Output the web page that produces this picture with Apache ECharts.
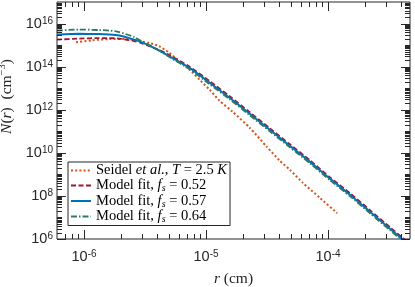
<!DOCTYPE html>
<html><head><meta charset="utf-8">
<script src="https://cdn.jsdelivr.net/npm/echarts@6/dist/echarts.min.js"></script>
<style>html,body{margin:0;padding:0;background:#fff}#c{width:415px;height:287px}</style>
</head><body><div id="c"></div>
<script>
// ---- data ----
const seidelR = [8.6e-7, 1.16e-6, 1.61e-6, 2.22e-6, 3.0e-6, 3.43e-6, 4.14e-6, 5.01e-6, 6.05e-6, 7.32e-6, 8.85e-6, 1.07e-5, 1.29e-5, 1.65e-5, 2.28e-5, 3.15e-5, 4.03e-5, 4.87e-5, 6.22e-5, 8.59e-5, 1.19e-4];
const seidelN = [1.35e15, 1.67e15, 1.90e15, 1.90e15, 1.46e15, 1.27e15, 8.8e14, 4.34e14, 1.77e14, 7.24e13, 2.48e13, 8.5e12, 2.62e12, 8.1e11, 1.46e11, 1.90e10, 4.25e9, 1.62e9, 4.03e8, 8.07e7, 1.57e7];
const fitR = [6.0e-7, 9.1e-7, 1.33e-6, 1.61e-6, 1.94e-6, 2.58e-6, 2.94e-6, 3.43e-6, 4.14e-6, 5.01e-6, 7.32e-6, 1.07e-5, 1.56e-5, 2.28e-5, 3.33e-5, 4.87e-5, 7.11e-5, 1.04e-4, 1.52e-4, 2.22e-4, 3.24e-4, 4.06e-4, 4.9e-4];
const fit052N = [1.80e15, 2.0e15, 2.12e15, 2.12e15, 2.0e15, 1.53e15, 1.24e15, 8.98e14, 5.85e14, 3.43e14, 1.0e14, 2.12e13, 4.25e12, 7.65e11, 1.38e11, 2.49e10, 4.48e9, 7.25e8, 1.31e8, 2.12e7, 3.43e6, 1.17e6, 5.0e5];
const fit057N = [3.08e15, 3.32e15, 3.25e15, 3.08e15, 2.77e15, 1.80e15, 1.38e15, 9.5e14, 5.55e14, 3.0e14, 8.7e13, 1.8e13, 3.6e12, 6.5e11, 1.17e11, 2.1e10, 3.8e9, 6.2e8, 1.11e8, 1.8e7, 2.9e6, 1.0e6, 4.3e5];
const fit064N = [4.72e15, 5.26e15, 4.99e15, 4.72e15, 4.03e15, 2.36e15, 1.53e15, 1.0e15, 5.55e14, 2.77e14, 7.65e13, 1.53e13, 3.08e12, 5.55e11, 1.0e11, 1.80e10, 3.25e9, 5.26e8, 9.49e7, 1.53e7, 2.48e6, 8.5e5, 3.6e5];
const seriesNames = ['Seidel et al., T = 2.5 K', 'Model fit, fs = 0.52', 'Model fit, fs = 0.57', 'Model fit, fs = 0.64'];
const xMajorTicks = [1e-6, 1e-5, 1e-4];
const yMajorTicks = [1e6, 1e8, 1e10, 1e12, 1e14, 1e16];
const xRange = [6e-7, 4.7e-4];
const yRange = [1e6, 1e17];

// minor tick values (log decades)
const xMinorTicks = [];
for (let n = -7; n <= -4; n++) for (let k = 2; k <= 9; k++) {
  const v = k * Math.pow(10, n);
  if (v > xRange[0] && v < xRange[1]) xMinorTicks.push(v);
}
const yMinorTicks = [];
for (let n = 6; n <= 16; n++) for (let k = 1; k <= 9; k++) {
  if (k === 1 && n % 2 === 0) continue;
  const v = k * Math.pow(10, n);
  if (v > yRange[0] && v < yRange[1]) yMinorTicks.push(v);
}

const ink = '#262626';
const serif = 'Liberation Serif';
const sans = 'Liberation Sans';

function pow10Label(v) {
  const e = Math.log10(v);
  const r = Math.round(e);
  if (Math.abs(e - r) > 1e-6) return '';
  return '{b|10}{sup|' + (r < 0 ? '-' + (-r) : r) + '}';
}
const tickRich = {
  b: {fontFamily: sans, fontSize: 14.5, color: ink, lineHeight: 15, verticalAlign: 'bottom'},
  sup: {fontFamily: sans, fontSize: 10, color: ink, lineHeight: 10, verticalAlign: 'top', padding: [0, 0, 7, 0]}
};
const nameRich = {
  r: {fontFamily: serif, fontSize: 15.5, color: ink, lineHeight: 18, verticalAlign: 'bottom'},
  i: {fontFamily: serif, fontSize: 15.5, color: ink, fontStyle: 'italic', lineHeight: 18, verticalAlign: 'bottom'},
  sup: {fontFamily: serif, fontSize: 10.5, color: ink, lineHeight: 10, verticalAlign: 'top'}
};
const legendRich = {
  r: {fontFamily: serif, fontSize: 14.5, color: '#000', lineHeight: 16, verticalAlign: 'middle'},
  i: {fontFamily: serif, fontSize: 14.5, color: '#000', fontStyle: 'italic', lineHeight: 16, verticalAlign: 'middle'},
  sub: {fontFamily: serif, fontSize: 10, color: '#000', fontStyle: 'italic', lineHeight: 9, verticalAlign: 'bottom'}
};
const legendLabels = {};
legendLabels[seriesNames[0]] = '{r|Seidel }{i|et al.}{r|, }{i|T}{r| = 2.5 }{i|K}';
legendLabels[seriesNames[1]] = '{r|Model fit, }{i|f}{sub|s}{r| = 0.52}';
legendLabels[seriesNames[2]] = '{r|Model fit, }{i|f}{sub|s}{r| = 0.57}';
legendLabels[seriesNames[3]] = '{r|Model fit, }{i|f}{sub|s}{r| = 0.64}';

function pairs(xs, ys) { return xs.map((x, i) => [x, ys[i]]); }

function tickSeries(values, axis, len) {
  return {
    type: 'custom', silent: true, z: 10, clip: false,
    data: values.map(v => axis === 'x' ? [v, 1e10, len] : [1e-5, v, len]),
    encode: {x: 0, y: 1},
    renderItem: function (params, api) {
      const cs = params.coordSys;
      const L = api.value(2);
      const st = {stroke: ink, lineWidth: 1};
      if (axis === 'x') {
        const x = Math.round(api.coord([api.value(0), 1e10])[0]) + 0.5;
        const yb = cs.y + cs.height, yt = cs.y;
        return {type: 'group', children: [
          {type: 'line', shape: {x1: x, y1: yb, x2: x, y2: yb - L}, style: st},
          {type: 'line', shape: {x1: x, y1: yt, x2: x, y2: yt + L}, style: st}
        ]};
      } else {
        const y = Math.round(api.coord([1e-5, api.value(1)])[1]) + 0.5;
        const xl = cs.x, xr = cs.x + cs.width;
        return {type: 'group', children: [
          {type: 'line', shape: {x1: xl, y1: y, x2: xl + L, y2: y}, style: st},
          {type: 'line', shape: {x1: xr, y1: y, x2: xr - L, y2: y}, style: st}
        ]};
      }
    }
  };
}

function lineSeries(name, xs, ys, color, width, type, z) {
  return {name: name, type: 'line', data: pairs(xs, ys), symbol: 'none', showSymbol: false, smooth: 0.2,
    lineStyle: {color: color, width: width, type: type}, itemStyle: {color: color}, z: z};
}

const chart = echarts.init(document.getElementById('c'), null, {renderer: 'canvas'});
chart.setOption({
  animation: false,
  backgroundColor: '#fff',
  grid: {left: 57, right: 5, top: 2, bottom: 48, show: true, borderColor: ink, borderWidth: 1,
    backgroundColor: 'transparent', containLabel: false, outerBoundsMode: 'none'},
  xAxis: {
    type: 'log', logBase: 10, min: xRange[0], max: xRange[1],
    axisLine: {show: false}, axisTick: {show: false}, splitLine: {show: false}, minorTick: {show: false},
    axisLabel: {formatter: pow10Label, rich: tickRich, margin: 10, showMinLabel: false, showMaxLabel: false},
    name: '{i|r}{r| (cm)}', nameLocation: 'middle', nameGap: 27,
    nameTextStyle: {rich: nameRich}
  },
  yAxis: {
    type: 'log', logBase: 10, min: yRange[0], max: yRange[1], interval: 2,
    axisLine: {show: false}, axisTick: {show: false}, splitLine: {show: false}, minorTick: {show: false},
    axisLabel: {formatter: function (v) { const s = pow10Label(v); const e = Math.round(Math.log10(v)); return (s && e % 2 === 0 && e < 17) ? s : ''; }, rich: tickRich, margin: 4},
    name: '{i|N}{r|(}{i|r}{r|)  (cm}{sup|\u22123}{r|)}', nameLocation: 'middle', nameGap: 39, nameRotate: 90,
    nameTextStyle: {rich: nameRich, padding: [0, 0, 0, 48]}
  },
  legend: {
    show: true, orient: 'vertical', left: 68, top: 162,
    data: seriesNames, itemWidth: 20, itemHeight: 14, itemGap: 0,
    padding: [1, 3, 1, 2], borderColor: ink, borderWidth: 1, backgroundColor: '#fff', borderRadius: 0,
    itemStyle: {opacity: 0},
    formatter: function (name) { return legendLabels[name]; },
    textStyle: {rich: legendRich}
  },
  series: [
    lineSeries(seriesNames[0], seidelR, seidelN, '#D95319', 2, [2, 2.2], 2),
    lineSeries(seriesNames[1], fitR, fit052N, '#A2142F', 1.8, [5, 2.5], 3),
    lineSeries(seriesNames[2], fitR, fit057N, '#0072BD', 2, 'solid', 4),
    lineSeries(seriesNames[3], fitR, fit064N, '#2E7A5A', 1.8, [6, 2, 1.5, 2], 5),
    tickSeries(xMajorTicks, 'x', 9),
    tickSeries(xMinorTicks, 'x', 5),
    tickSeries(yMajorTicks, 'y', 9),
    tickSeries(yMinorTicks, 'y', 5)
  ]
});
</script></body></html>
